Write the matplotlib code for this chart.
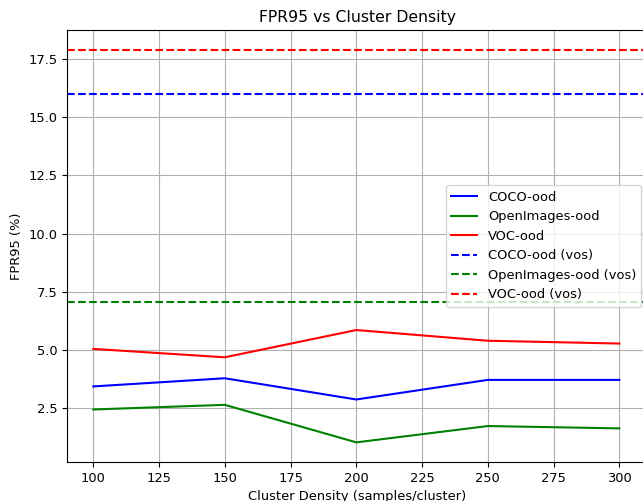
import matplotlib
matplotlib.use("Agg")
import matplotlib.pyplot as plt

density = [100, 150, 200, 250, 300]
coco = [3.44, 3.79, 2.88, 3.72, 3.72]
openimages = [2.45, 2.65, 1.04, 1.74, 1.64]
voc = [5.05, 4.69, 5.86, 5.40, 5.28]

coco_vos = 16.0
openimages_vos = 7.05
voc_vos = 17.89

plt.rcParams['font.size'] = 9.4

fig = plt.figure(figsize=(6.43, 5.01), dpi=100)
# the right spine sits just past the image edge, as in the reference
ax = fig.add_axes([67 / 643, 39 / 501, 581 / 643, 432 / 501])

ax.plot(density, coco, color='blue', label='COCO-ood')
ax.plot(density, openimages, color='green', label='OpenImages-ood')
ax.plot(density, voc, color='red', label='VOC-ood')
ax.axhline(coco_vos, color='blue', linestyle='--', label='COCO-ood (vos)')
ax.axhline(openimages_vos, color='green', linestyle='--', label='OpenImages-ood (vos)')
ax.axhline(voc_vos, color='red', linestyle='--', label='VOC-ood (vos)')

ax.set_xlim(90, 310.9)
ax.set_title('FPR95 vs Cluster Density')
ax.set_xlabel('Cluster Density (samples/cluster)')
ax.set_ylabel('FPR95 (%)')
ax.grid(True)
ax.legend(loc='center right')

fig.savefig('out.png', dpi=100)
